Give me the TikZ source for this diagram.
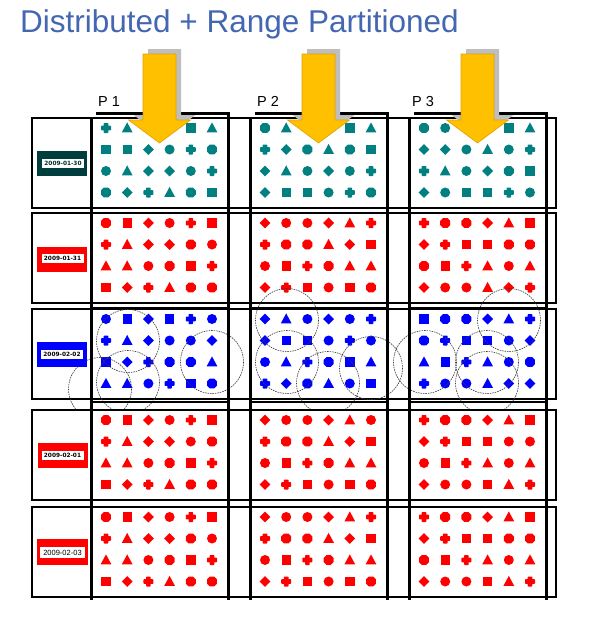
\documentclass[tikz,border=0pt]{standalone}
\usepackage{fontspec}
\setmainfont{Liberation Sans}
\newfontfamily\labfont{DejaVu Sans}
\definecolor{ttl}{RGB}{68,103,178}
\definecolor{teal1}{RGB}{0,128,128}
\definecolor{tealdark}{RGB}{0,62,62}
\definecolor{arrowfill}{RGB}{255,192,0}
\definecolor{arrowedge}{RGB}{225,160,0}
\definecolor{shadowgray}{RGB}{190,190,190}
\definecolor{circgray}{RGB}{60,60,60}
\tikzset{
  rowbox/.style={draw=black, line width=1.2pt, fill=white},
  colline/.style={draw=black, line width=3pt},
  hotcell/.style={draw=black, line width=2.6pt},
  groupcirc/.style={draw=circgray, line width=0.6pt, dash pattern=on 1.6pt off 0.9pt},
  labouter/.style={inner sep=0pt, minimum width=50pt, minimum height=25pt},
  labinner/.style={fill=white, inner sep=0pt, minimum width=42pt, minimum height=9pt, text=black, font=\labfont\bfseries\fontsize{5.8}{6}\selectfont},
  plabel/.style={anchor=base west, inner sep=0pt, font=\fontsize{14.5}{15}\selectfont}
}
\newcommand\shpP{\fill[rounded corners=0.7pt] (-5,-2.3) rectangle (5,2.3); \fill[rounded corners=0.7pt] (-2.3,-5) rectangle (2.3,5);}
\newcommand\shpT{\fill (0,-5.6) -- (5.4,4.4) -- (-5.4,4.4) -- cycle;}
\newcommand\shpS{\fill (-4.7,-4.7) rectangle (4.7,4.7);}
\newcommand\shpD{\fill (0,-5.4) -- (5.4,0) -- (0,5.4) -- (-5.4,0) -- cycle;}
\newcommand\shpC{\fill (0,0) circle (5);}
\newcommand\shpH{\fill (22.5:5.4) -- (67.5:5.4) -- (112.5:5.4) -- (157.5:5.4) -- (202.5:5.4) -- (247.5:5.4) -- (292.5:5.4) -- (337.5:5.4) -- cycle;}
\newcommand\mycell[4]{%
  \begin{scope}[#3]
  \foreach \shcode [count=\i from 0] in {#4} {%
    \pgfmathtruncatemacro\cc{mod(\i,6)}%
    \pgfmathtruncatemacro\rr{div(\i,6)}%
    \begin{scope}[shift={({#1+15+\cc*21.2},{#2+10+\rr*21.5})}]
      \csname shp\shcode\endcsname
    \end{scope}
  }%
  \end{scope}%
}
\newcommand\myarrow[1]{%
  \fill[shadowgray] ({#1-11.5},49) -- ({#1+21.5},49) -- ({#1+21.5},115) -- ({#1+36},115) -- ({#1+5},138) -- ({#1-26},115) -- ({#1-11.5},115) -- cycle;
  \filldraw[fill=arrowfill, draw=arrowedge, line width=0.6pt] ({#1-16.5},54) -- ({#1+16.5},54) -- ({#1+16.5},120) -- ({#1+31},120) -- (#1,143) -- ({#1-31},120) -- ({#1-16.5},120) -- cycle;
}
\begin{document}
\begin{tikzpicture}[x=1pt,y=-1pt]
\useasboundingbox (0,0) rectangle (595,624);
\fill[white] (0,0) rectangle (595,624);

% title and partition labels
\node[anchor=base west, inner sep=0pt, text=ttl, font=\fontsize{31.5}{32}\selectfont] (title) at (20,32) {Distributed + Range Partitioned};
\node[plabel] (p1) at (98,106) {P 1};
\node[plabel] (p2) at (257,106) {P 2};
\node[plabel] (p3) at (412,106) {P 3};

% rows 1-3
\draw[rowbox] (32,118) rectangle (556,208);
\mycell{91}{118}{teal1}{P,T,D,C,S,T,S,S,D,C,P,H,C,T,D,D,C,P,H,D,P,T,H,S}
\mycell{250}{118}{teal1}{H,T,C,D,S,T,P,D,H,T,H,S,D,T,C,D,C,P,D,S,S,C,P,H}
\mycell{409}{118}{teal1}{H,C,D,C,S,T,D,D,C,T,C,P,P,T,C,D,H,S,D,C,S,S,P,C}

\draw[rowbox] (32,213) rectangle (556,303);
\mycell{91}{213}{red}{H,S,D,C,P,S,P,T,D,D,H,C,T,T,C,H,S,P,S,D,P,T,H,H}
\mycell{250}{213}{red}{D,C,C,D,T,P,P,H,H,T,D,S,C,S,P,H,T,T,D,P,S,C,S,H}
\mycell{409}{213}{red}{P,H,H,D,T,S,D,P,S,S,H,H,H,S,P,T,C,T,D,C,C,T,D,P}

\draw[rowbox] (32,309) rectangle (556,399);
\mycell{91}{309}{blue}{C,S,D,S,P,C,P,T,D,C,C,D,S,D,P,H,H,T,T,T,C,P,S,H}
\mycell{250}{309}{blue}{D,T,C,D,C,P,D,S,S,C,P,C,C,T,P,H,S,T,P,D,H,T,C,S}
\mycell{409}{309}{blue}{S,H,H,D,T,P,H,P,S,S,C,D,T,S,P,T,C,H,P,C,C,T,D,D}

% grouping circles
\foreach \cx/\cy [count=\k] in {128/341,128/382,100/389,212/362,287/320,287/362,328/383,371/368,425/362,509/320,487/362,487/383}
  \draw[groupcirc] (\cx,\cy) coordinate (gc\k) circle (31.5);

% rows 4-5
\draw[rowbox] (32,410) rectangle (556,500);
\mycell{91}{410}{red}{H,S,D,C,P,S,P,T,D,D,C,H,T,T,C,H,S,P,S,D,P,T,H,H}
\mycell{250}{410}{red}{D,C,C,D,T,C,P,H,H,T,D,S,C,S,P,H,T,T,D,P,S,C,S,H}
\mycell{409}{410}{red}{P,H,H,D,T,S,D,P,S,S,C,C,C,S,P,T,C,T,D,C,C,S,T,P}

\draw[rowbox] (32,507) rectangle (556,597);
\mycell{91}{507}{red}{H,S,D,C,P,S,P,T,D,D,H,C,T,T,C,H,S,P,S,D,P,T,H,H}
\mycell{250}{507}{red}{D,C,C,D,T,P,P,H,H,T,D,S,C,S,P,H,T,T,D,P,S,C,S,H}
\mycell{409}{507}{red}{P,H,H,D,T,S,D,P,S,S,H,H,H,S,P,T,C,T,D,C,C,S,T,P}

% partition columns
\foreach \L in {91,250,409} {
  \draw[colline] ({\L+5},113) -- ({\L+137},113) -- ({\L+137},600);
  \draw[colline] (\L,117) -- (\L,600);
  \draw[hotcell] (\L,308) rectangle ({\L+137},402);
}

% row labels
\node[labouter, fill=tealdark] (lab1) at (62,163.5) {};
\node[labinner, text=tealdark!70!black] (lab1t) at (63,163) {2009-01-30};
\node[labouter, fill=red] (lab2) at (62,259) {};
\node[labinner] (lab2t) at (62.5,258.5) {2009-01-31};
\node[labouter, fill=blue] (lab3) at (62,354.5) {};
\node[labinner] (lab3t) at (62,354.5) {2009-02-02};
\node[labouter, fill=red] (lab4) at (62.5,455.5) {};
\node[labinner] (lab4t) at (62.5,455.5) {2009-02-01};
\node[labouter, fill=red, minimum width=51pt, minimum height=26pt] (lab5) at (62.5,552) {};
\node[labinner, minimum width=45pt, minimum height=11pt, font=\fontsize{7.5}{8}\selectfont] (lab5t) at (62.5,552.5) {2009-02-03};

% arrows
\myarrow{159.5}
\myarrow{318.5}
\myarrow{477.5}
\end{tikzpicture}
\end{document}
